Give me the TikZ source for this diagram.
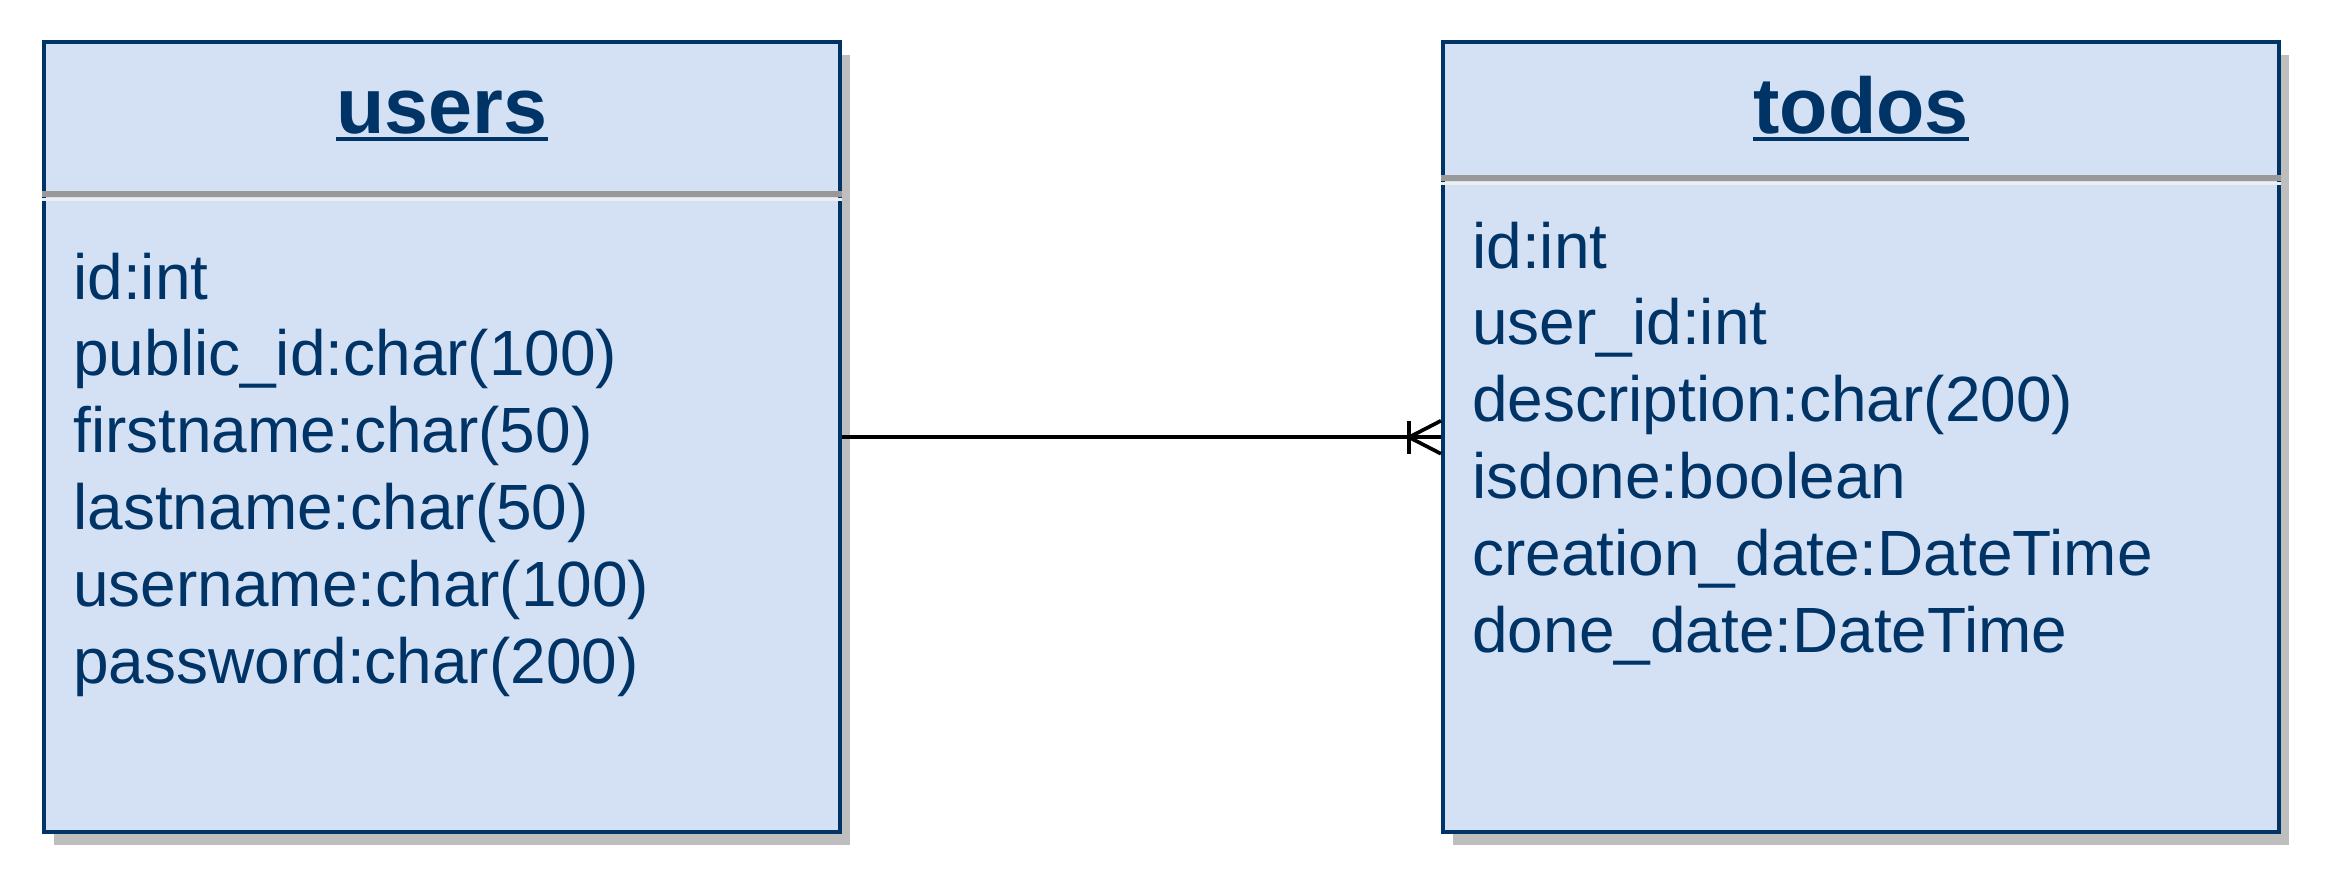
\documentclass[tikz,border=0pt]{standalone}
\usepackage{fontspec}
\setmainfont{Liberation Sans}
\usepackage{xcolor}
\usetikzlibrary{shadows}
\definecolor{b1}{HTML}{D4E1F5}
\definecolor{b2}{HTML}{003366}
\definecolor{s1}{HTML}{BEBEBE}
\definecolor{l1}{HTML}{999999}
\definecolor{l2}{HTML}{EEEEEE}

\begin{document}
\begin{tikzpicture}[
	table/.style={draw=b2, fill=b1, line width=2.3pt, inner sep=0pt,
		drop shadow={shadow xshift=0.2cm, shadow yshift=-0.25cm, fill=s1, opacity=1}},
	title/.style={text=b2, font=\fontsize{45}{54}\selectfont\bfseries, inner sep=0pt, anchor=base},
	attr/.style={text=b2, font=\fontsize{36.4}{44}\selectfont, inner sep=0pt, anchor=base west},
	sepline/.style={draw=l1, line width=3pt},
	sepshade/.style={draw=l2, line width=1.8pt},
	uline/.style={draw=b2, line width=2.6pt},
	conn/.style={draw=black, line width=2.1pt}]
	\useasboundingbox (0,0) rectangle (46.64,-17.84);

	% users
	\node[table, minimum width=15.92cm, minimum height=15.8cm] (users) at (8.834,-8.745) {};
	\draw[sepshade] (users.west |- 0,-3.99) -- (users.east |- 0,-3.99);
	\draw[sepline] (users.west |- 0,-3.88) -- (users.east |- 0,-3.88);
	\node[title] (utitle) at ([yshift=-1.856cm]users.north) {users};
	\draw[uline] ([yshift=-0.12cm]utitle.base west) -- ([yshift=-0.12cm]utitle.base east);
	\foreach \txt [count=\i] in {id:int, public\_id:char(100), firstname:char(50), lastname:char(50), username:char(100), password:char(200)}
		\node[attr] (users-\i) at ({1.46},{-5.98-1.536*(\i-1)}) {\txt};

	% todos
	\node[table, minimum width=16.72cm, minimum height=15.8cm] (todos) at (37.22,-8.745) {};
	\draw[sepshade] (todos.west |- 0,-3.67) -- (todos.east |- 0,-3.67);
	\draw[sepline] (todos.west |- 0,-3.56) -- (todos.east |- 0,-3.56);
	\node[title] (ttitle) at ([yshift=-1.856cm]todos.north) {todos};
	\draw[uline] ([yshift=-0.12cm]ttitle.base west) -- ([yshift=-0.12cm]ttitle.base east);
	\foreach \txt [count=\i] in {id:int, user\_id:int, description:char(200), isdone:boolean, creation\_date:DateTime, done\_date:DateTime}
		\node[attr] (todos-\i) at ({29.44},{-5.36-1.536*(\i-1)}) {\txt};

	% 一对多连线
	\draw[conn] (users) -- (todos);
	\draw[conn] ([yshift=0.33cm]todos.west) -- ([xshift=-0.64cm]todos.west) -- ([yshift=-0.33cm]todos.west);
	\draw[conn] ([xshift=-0.64cm,yshift=0.33cm]todos.west) -- ([xshift=-0.64cm,yshift=-0.33cm]todos.west);
\end{tikzpicture}
\end{document}
